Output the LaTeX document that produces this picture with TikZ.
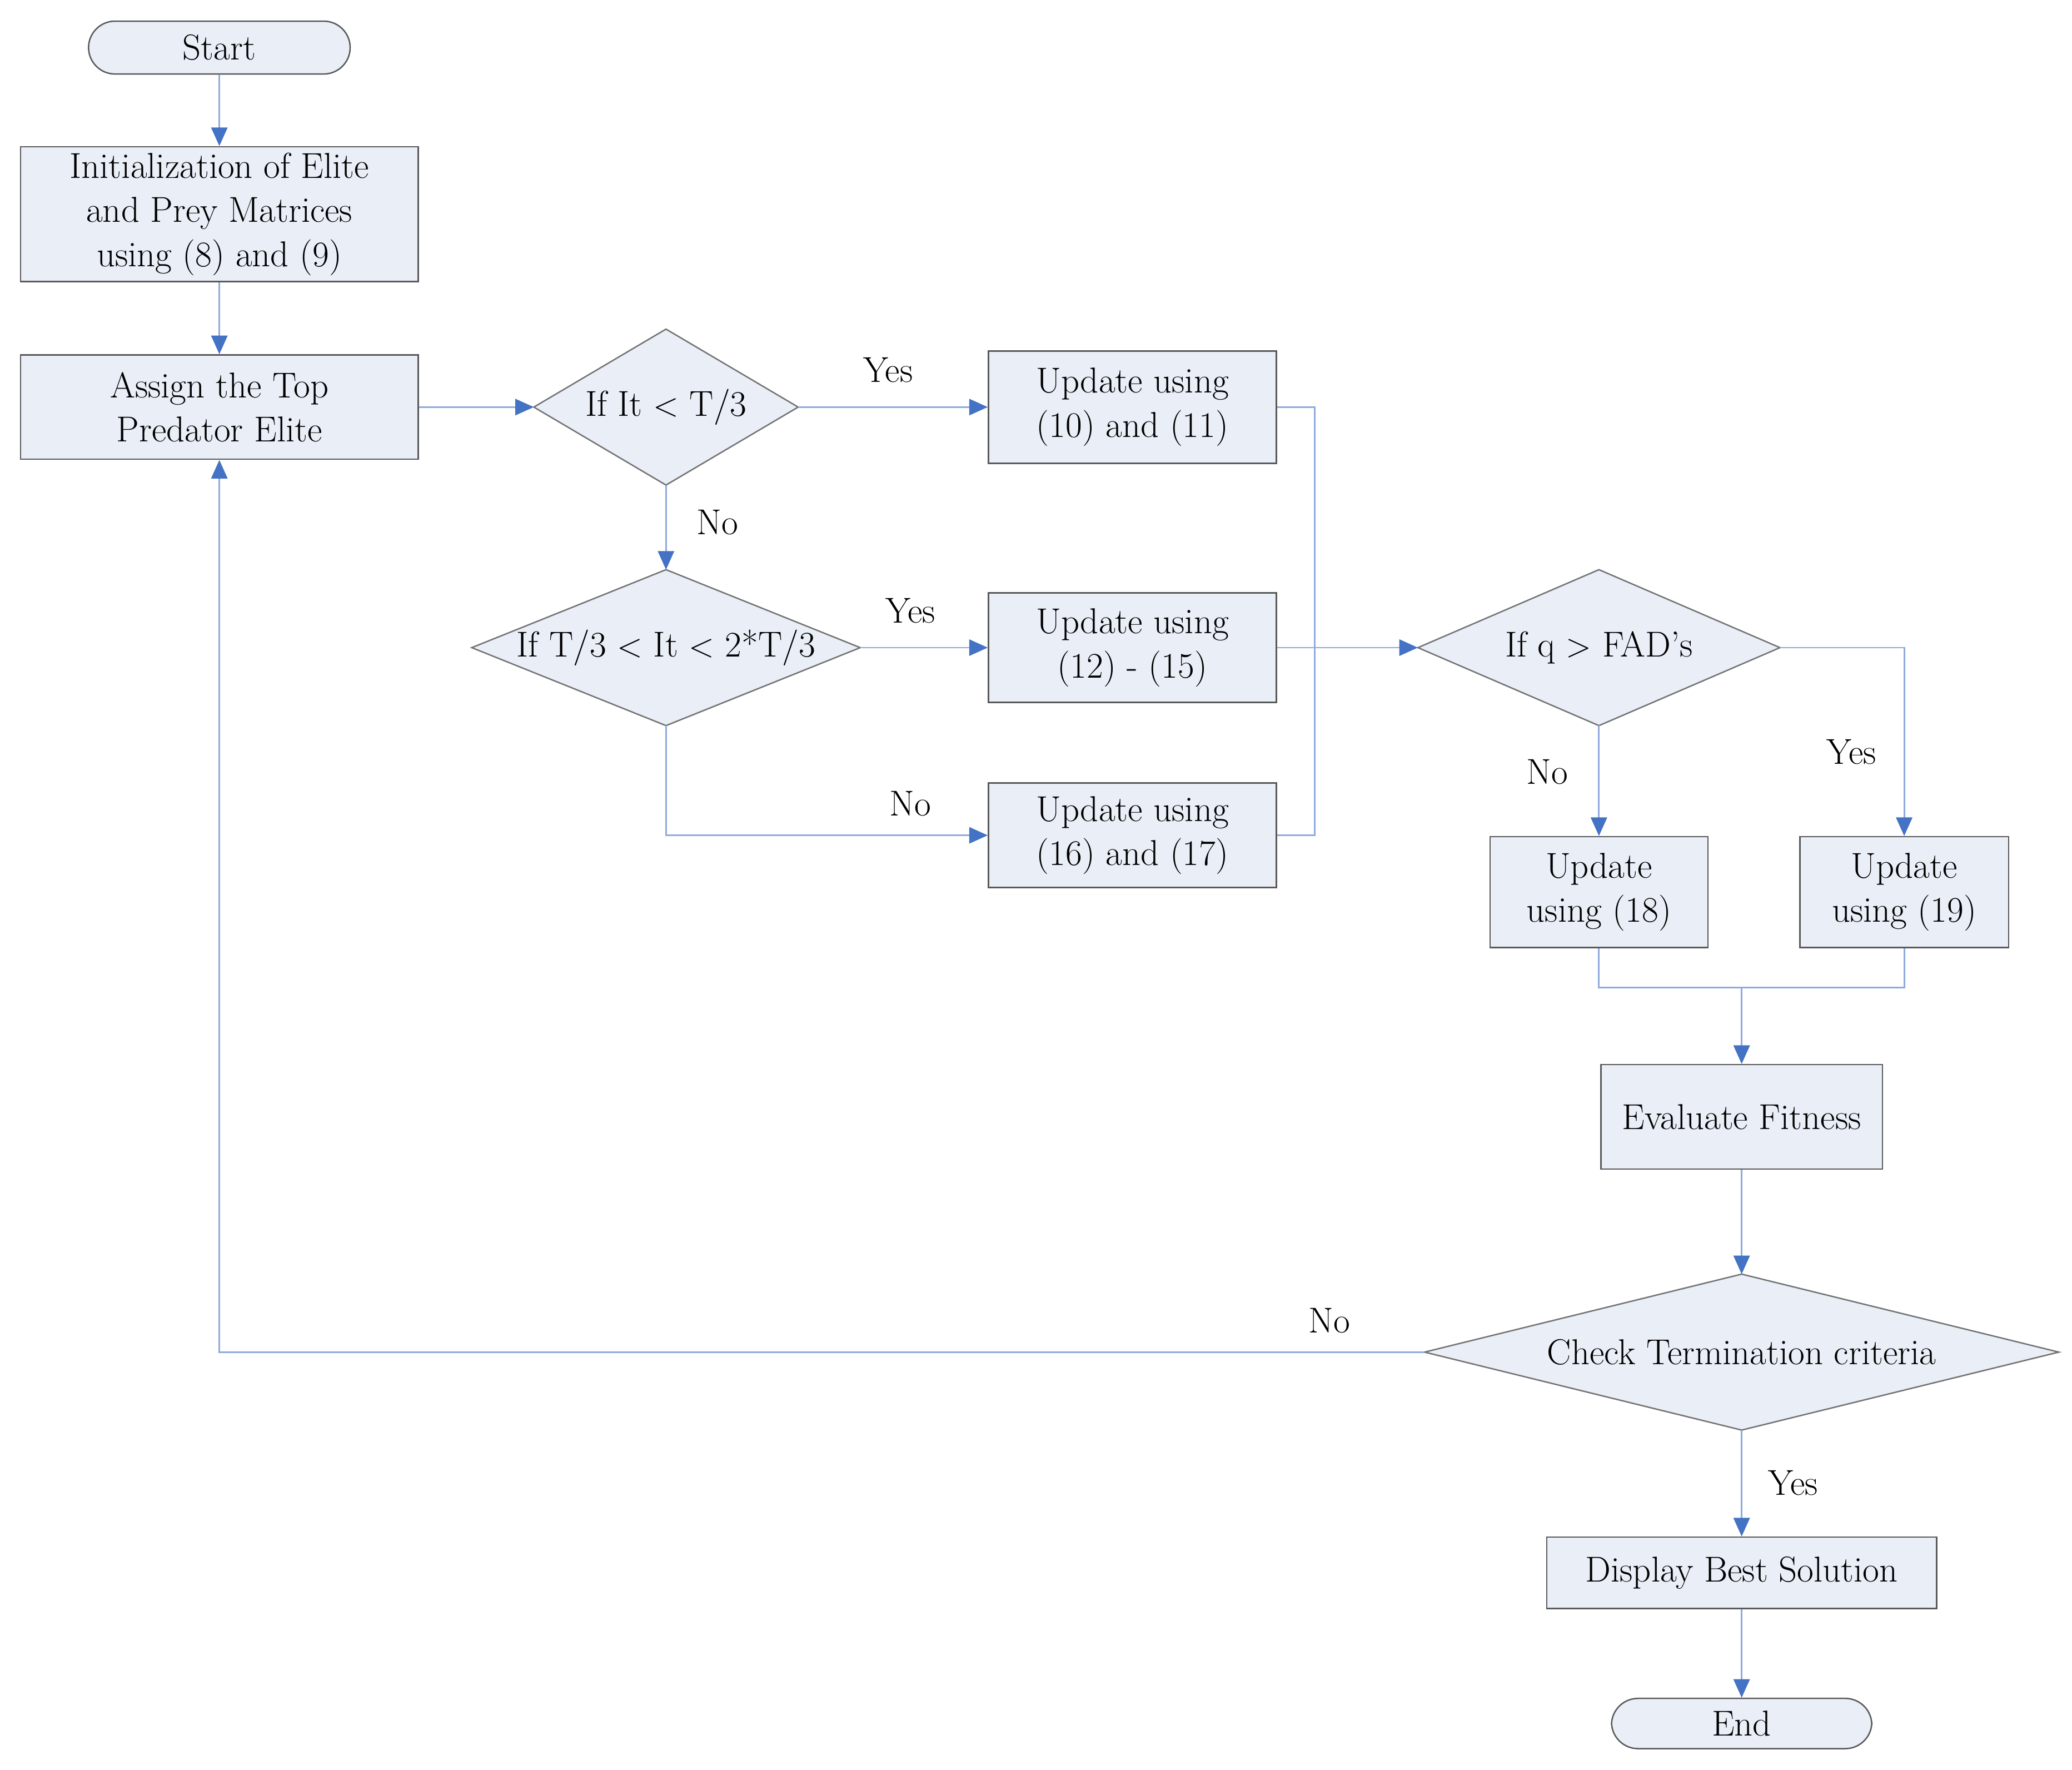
\documentclass[tikz,border=0pt]{standalone}
\usetikzlibrary{arrows.meta}
\definecolor{fillc}{RGB}{233,238,247}
\definecolor{linec}{RGB}{143,170,220}
\definecolor{tipc}{RGB}{68,114,196}
\newcommand{\mydia}[5]{%
  \draw[dia] (#2-#4,#3) -- (#2,#3-59) -- (#2+#4,#3) -- (#2,#3+59) -- cycle;
  \node (#1) at (#2,#3) {#5};
  \coordinate (#1w) at (#2-#4,#3);
  \coordinate (#1e) at (#2+#4,#3);
  \coordinate (#1n) at (#2,#3-59);
  \coordinate (#1s) at (#2,#3+59);}
\begin{document}
\begin{tikzpicture}[x=0.02cm,y=-0.02cm,
  every node/.style={font=\fontsize{15.5}{19}\selectfont},
  box/.style={draw=black!65,fill=fillc,line width=0.6pt,align=center,inner sep=0pt},
  term/.style={box,rounded corners=0.4cm},
  dia/.style={draw=black!55,fill=fillc,line width=0.6pt},
  con/.style={draw=linec,line width=0.7pt},
  arr/.style={con,-{Triangle[length=8pt,width=7pt,fill=tipc,color=tipc]}}]
\useasboundingbox (0,0) rectangle (1568,1339);
\node[term,minimum width=3.96cm,minimum height=0.8cm] (start) at (166,36) {Start};
\node[box,minimum width=6.02cm,minimum height=2.04cm] (init) at (166,162) {Initialization of Elite\\and Prey Matrices\\using (8) and (9)};
\node[box,minimum width=6.02cm,minimum height=1.58cm] (assign) at (166,308) {Assign the Top\\Predator Elite};
\mydia{d1}{504}{308}{100}{If It $<$ T/3}
\node[box,minimum width=4.36cm,minimum height=1.7cm] (u1) at (857,308) {Update using\\(10) and (11)};
\mydia{d2}{504}{490}{147}{If T/3 $<$ It $<$ 2*T/3}
\node[box,minimum width=4.36cm,minimum height=1.66cm] (u2) at (857,490) {Update using\\(12) - (15)};
\node[box,minimum width=4.36cm,minimum height=1.58cm] (u3) at (857,632) {Update using\\(16) and (17)};
\mydia{d3}{1210}{490}{137}{If q $>$ FAD's}
\node[box,minimum width=3.3cm,minimum height=1.68cm] (u4) at (1210,675) {Update\\using (18)};
\node[box,minimum width=3.16cm,minimum height=1.68cm] (u5) at (1441,675) {Update\\using (19)};
\node[box,minimum width=4.26cm,minimum height=1.58cm] (eval) at (1318,845) {Evaluate Fitness};
\mydia{d4}{1318}{1023}{240}{Check Termination criteria}
\node[box,minimum width=5.9cm,minimum height=1.08cm] (disp) at (1318,1190) {Display Best Solution};
\node[term,minimum width=3.94cm,minimum height=0.76cm] (end) at (1318,1304) {End};
\coordinate (m1) at (995,490);
\coordinate (m2) at (1318,747);
\draw[arr] (start) -- (init);
\draw[arr] (init) -- (assign);
\draw[arr] (assign) -- (d1w);
\draw[arr] (d1e) -- (u1);
\draw[arr] (d1s) -- (d2n);
\draw[arr] (d2e) -- (u2);
\draw[arr] (d2s) |- (u3.west);
\draw[con] (u1.east) -| (m1);
\draw[con] (u3.east) -| (m1);
\draw[arr] (u2) -- (d3w);
\draw[arr] (d3s) -- (u4);
\draw[arr] (d3e) -| (u5.north);
\draw[con] (u4.south) |- (m2);
\draw[con] (u5.south) |- (m2);
\draw[arr] (m2) -- (eval);
\draw[arr] (eval) -- (d4n);
\draw[arr] (d4s) -- (disp);
\draw[arr] (disp) -- (end);
\draw[arr] (d4w) -| (assign.south);
\node (l1) at (672,280) {Yes};
\node (l2) at (543,395) {No};
\node (l3) at (689,462) {Yes};
\node (l4) at (689,608) {No};
\node (l5) at (1171,584) {No};
\node (l6) at (1401,569) {Yes};
\node (l7) at (1006,999) {No};
\node (l8) at (1357,1122) {Yes};
\end{tikzpicture}
\end{document}
